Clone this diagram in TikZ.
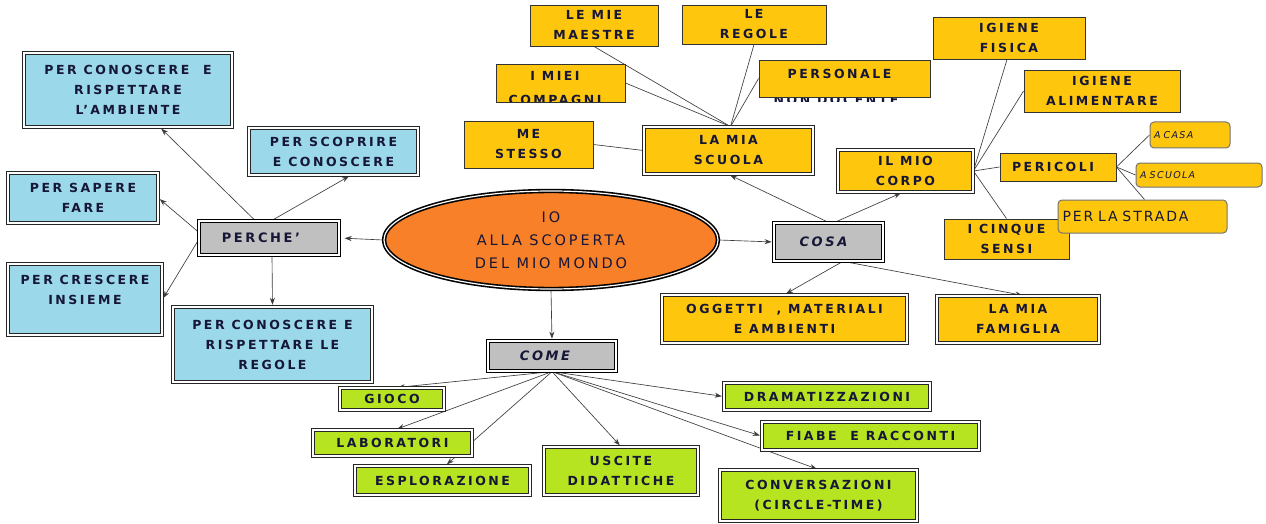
\documentclass[tikz,border=0pt]{standalone}
\usepackage{fontspec}
\setmainfont{DejaVu Sans}[LetterSpace=20]
\newfontfamily\plainsans{DejaVu Sans}[LetterSpace=14]
\usetikzlibrary{shapes.geometric,arrows.meta}
\definecolor{skyfill}{RGB}{155,217,234}
\definecolor{goldfill}{RGB}{254,199,14}
\definecolor{limefill}{RGB}{183,228,32}
\definecolor{greyfill}{RGB}{192,192,192}
\definecolor{sunfill}{RGB}{248,128,40}
\definecolor{ink}{RGB}{22,22,55}
\definecolor{wire}{RGB}{60,60,60}
\pgfdeclarelayer{back}
\pgfsetlayers{back,main}
\newcommand\boxfont{\fontsize{12.5}{20}\selectfont\bfseries}
\newcommand\hubfont{\fontsize{13}{20}\selectfont\bfseries}
\newcommand\smallfont{\plainsans\itshape\fontsize{9.5}{11}\selectfont}
\tikzset{
  every node/.style={inner sep=0pt, align=center, text=ink, font=\boxfont},
  sz/.style 2 args={minimum width=#1, minimum height=#2},
  twoline/.style={draw=black!85, line width=0.85pt, double=white, double distance=1.6pt},
  skybox/.style={rectangle, fill=skyfill, twoline},
  goldbox/.style={rectangle, fill=goldfill, draw=black!80, line width=0.9pt},
  golddbl/.style={rectangle, fill=goldfill, twoline},
  limebox/.style={rectangle, fill=limefill, twoline},
  greybox/.style={rectangle, fill=greyfill, draw=black, line width=1.2pt, double=white,
                  double distance=1.6pt, font=\hubfont},
  roundbox/.style={rectangle, rounded corners=4pt, fill=goldfill, draw=black!55, line width=1pt},
  link/.style={draw=wire, line width=0.65pt},
  arr/.style={link, shorten >=1.8pt, -{Stealth[length=7pt,width=5pt]}},
}
\begin{document}
\begin{tikzpicture}[x=1pt,y=-1pt]
\useasboundingbox (0,0) rectangle (1266,524);

% central ellipse and the three hubs
\node[ellipse, fill=sunfill, draw=black, line width=1.6pt, double=white, double distance=1.2pt,
      sz={334}{98}, font=\fontsize{14.5}{23}\selectfont] (io) at (551,240) {IO\\ALLA SCOPERTA\\DEL MIO MONDO};
\node[greybox, sz={140}{34}] (perche) at (269,238) {PERCHE'\hspace*{16pt}};
\node[greybox, sz={109}{38}, font=\hubfont\itshape] (cosa) at (828.5,242) {COSA\hspace*{10pt}};
\node[greybox, sz={128}{30}, font=\hubfont\itshape] (come) at (552,356) {COME\hspace*{14pt}};

% PERCHE' branch
\node[skybox, sz={208}{74}] (amb) at (128,90) {PER CONOSCERE\ \ E\\RISPETTARE\\L'AMBIENTE};
\node[skybox, sz={169}{47}] (scop) at (333.5,151.5) {PER SCOPRIRE\\E CONOSCERE};
\node[skybox, sz={150}{50}] (saper) at (83,198) {PER SAPERE\\FARE};
\node[skybox, sz={154}{71}] (cresc) at (85,299.5) {PER CRESCERE\\INSIEME\\\mbox{}};
\node[skybox, sz={199}{75}] (regvita) at (272.5,344.5) {PER CONOSCERE E\\RISPETTARE LE\\REGOLE};

% COSA branch: school
\begin{scope}
  % second line of the staff label runs out under its frame
  \clip (750,55) rectangle (940,102);
  \node[anchor=base] (docente) at (836,105) {NON DOCENTE};
\end{scope}
\node[golddbl, sz={169}{47}] (scuola) at (728.5,150.5) {LA MIA\\SCUOLA};
\node[goldbox, sz={128}{41}] (maestre) at (594,25.5) {LE MIE\\MAESTRE};
\node[goldbox, sz={144}{39}] (regole) at (754,24.5) {LE\\REGOLE};
\node[goldbox, sz={129}{38}] (compagni) at (560.5,83) {};
\node[goldbox, sz={171}{37}, text depth=10pt] (personale) at (844.5,78.5) {PERSONALE\hspace*{10pt}};
\node[goldbox, sz={129}{47}] (stesso) at (528.5,144.5) {ME\\STESSO};
\begin{scope}
  \clip (490,60) rectangle (632,101.5);
  \node[anchor=north] (compagnitxt) at (555,71) {I MIEI\\[4pt]COMPAGNI};
\end{scope}

% COSA branch: body
\node[golddbl, sz={135}{42}] (corpo) at (905.5,171) {IL MIO\\CORPO};
\node[goldbox, sz={152}{42}] (fisica) at (1009,38) {IGIENE\\FISICA};
\node[goldbox, sz={156}{42}] (alim) at (1102,91) {IGIENE\\ALIMENTARE};
\node[goldbox, sz={116}{28}] (pericoli) at (1058,167) {PERICOLI\hspace*{10pt}};
\node[goldbox, sz={125}{40}] (sensi) at (1006.5,239) {I CINQUE\\SENSI};
\node[roundbox, sz={80}{26}, text width=72, align=left, font=\smallfont] (casa) at (1190,135) {A CASA};
\node[roundbox, sz={126}{24}, text width=118, align=left, font=\smallfont] (ascuola) at (1199,175) {A SCUOLA};
\node[roundbox, sz={169}{33}, text width=160, align=left, font=\plainsans\fontsize{14}{16}\selectfont] (strada) at (1142.5,216.5) {PER LA STRADA};

% COSA branch: objects and family
\node[golddbl, sz={245}{48}] (ogg) at (784.5,319) {OGGETTI\ \ , MATERIALI\\E AMBIENTI};
\node[golddbl, sz={162}{47}] (fam) at (1018,319.5) {LA MIA\\FAMIGLIA};

% COME branch
\node[limebox, sz={104}{22}] (gioco) at (392,399) {GIOCO};
\node[limebox, sz={206}{27}] (drama) at (827,396.5) {DRAMATIZZAZIONI};
\node[limebox, sz={159}{26}] (lab) at (392.5,443) {LABORATORI};
\node[limebox, sz={217}{28}] (fiabe) at (870.5,436) {FIABE\ \ E RACCONTI};
\node[limebox, sz={175}{29}] (espl) at (442.5,480.5) {ESPLORAZIONE};
\node[limebox, sz={154}{48}] (uscite) at (621,471) {USCITE\\DIDATTICHE};
\node[limebox, sz={197}{51}] (conv) at (818.5,495.5) {CONVERSAZIONI\\(CIRCLE-TIME)};

\begin{pgfonlayer}{back}
  \fill[white] (0,0) rectangle (1266,524);
  % from the centre
  \draw[arr, shorten >=5pt] (io.west) -- (perche.east);
  \draw[arr] (io.east) -- (cosa.west);
  \draw[arr] (io.south) -- (come.north);
  % PERCHE'
  \draw[arr] ([xshift=-14pt]perche.north) -- ([xshift=32pt]amb.south);
  \draw[arr] ([xshift=3pt]perche.north) -- ([xshift=17pt]scop.south);
  \draw[arr] ([yshift=6pt]perche.west) -- (saper.east);
  \draw[arr] ([yshift=-2pt]perche.west) -- (cresc.east);
  \draw[arr] ([xshift=3pt]perche.south) -- (regvita.north);
  % COSA
  \draw[arr] (cosa.north) -- (scuola.south);
  \draw[arr] ([xshift=6pt]cosa.north) -- ([xshift=-3pt]corpo.south);
  \draw[arr] ([xshift=14pt]cosa.south) -- (ogg.north);
  \draw[arr] ([xshift=16pt]cosa.south) -- ([xshift=6pt]fam.north);
  % school
  \draw[link] ([xshift=2pt]scuola.north) -- (maestre.south);
  \draw[link] ([xshift=2pt]scuola.north) -- (compagni.east);
  \draw[link] ([xshift=2pt]scuola.north) -- (regole.south);
  \draw[link] ([xshift=2pt]scuola.north) -- (personale.west);
  \draw[link] (stesso.east) -- (scuola.west);
  % body
  \draw[link] (corpo.east) -- ([xshift=-2pt]fisica.south);
  \draw[link] (corpo.east) -- (alim.west);
  \draw[link] (corpo.east) -- (pericoli.west);
  \draw[link] (corpo.east) -- (sensi.north);
  \draw[link] (pericoli.east) -- (casa.west);
  \draw[link] (pericoli.east) -- (ascuola.west);
  \draw[link] (pericoli.east) -- ([xshift=2pt]strada.north);
  % COME
  \draw[arr] (come.south) -- ([xshift=4pt]gioco.north);
  \draw[arr] (come.south) -- (drama.west);
  \draw[arr] (come.south) -- ([xshift=3pt]lab.north);
  \draw[arr] (come.south) -- ([xshift=3pt]espl.north);
  \draw[arr] (come.south) -- (uscite.north);
  \draw[arr] (come.south) -- (fiabe.west);
  \draw[arr] (come.south) -- (conv.north);
\end{pgfonlayer}
\end{tikzpicture}
\end{document}
